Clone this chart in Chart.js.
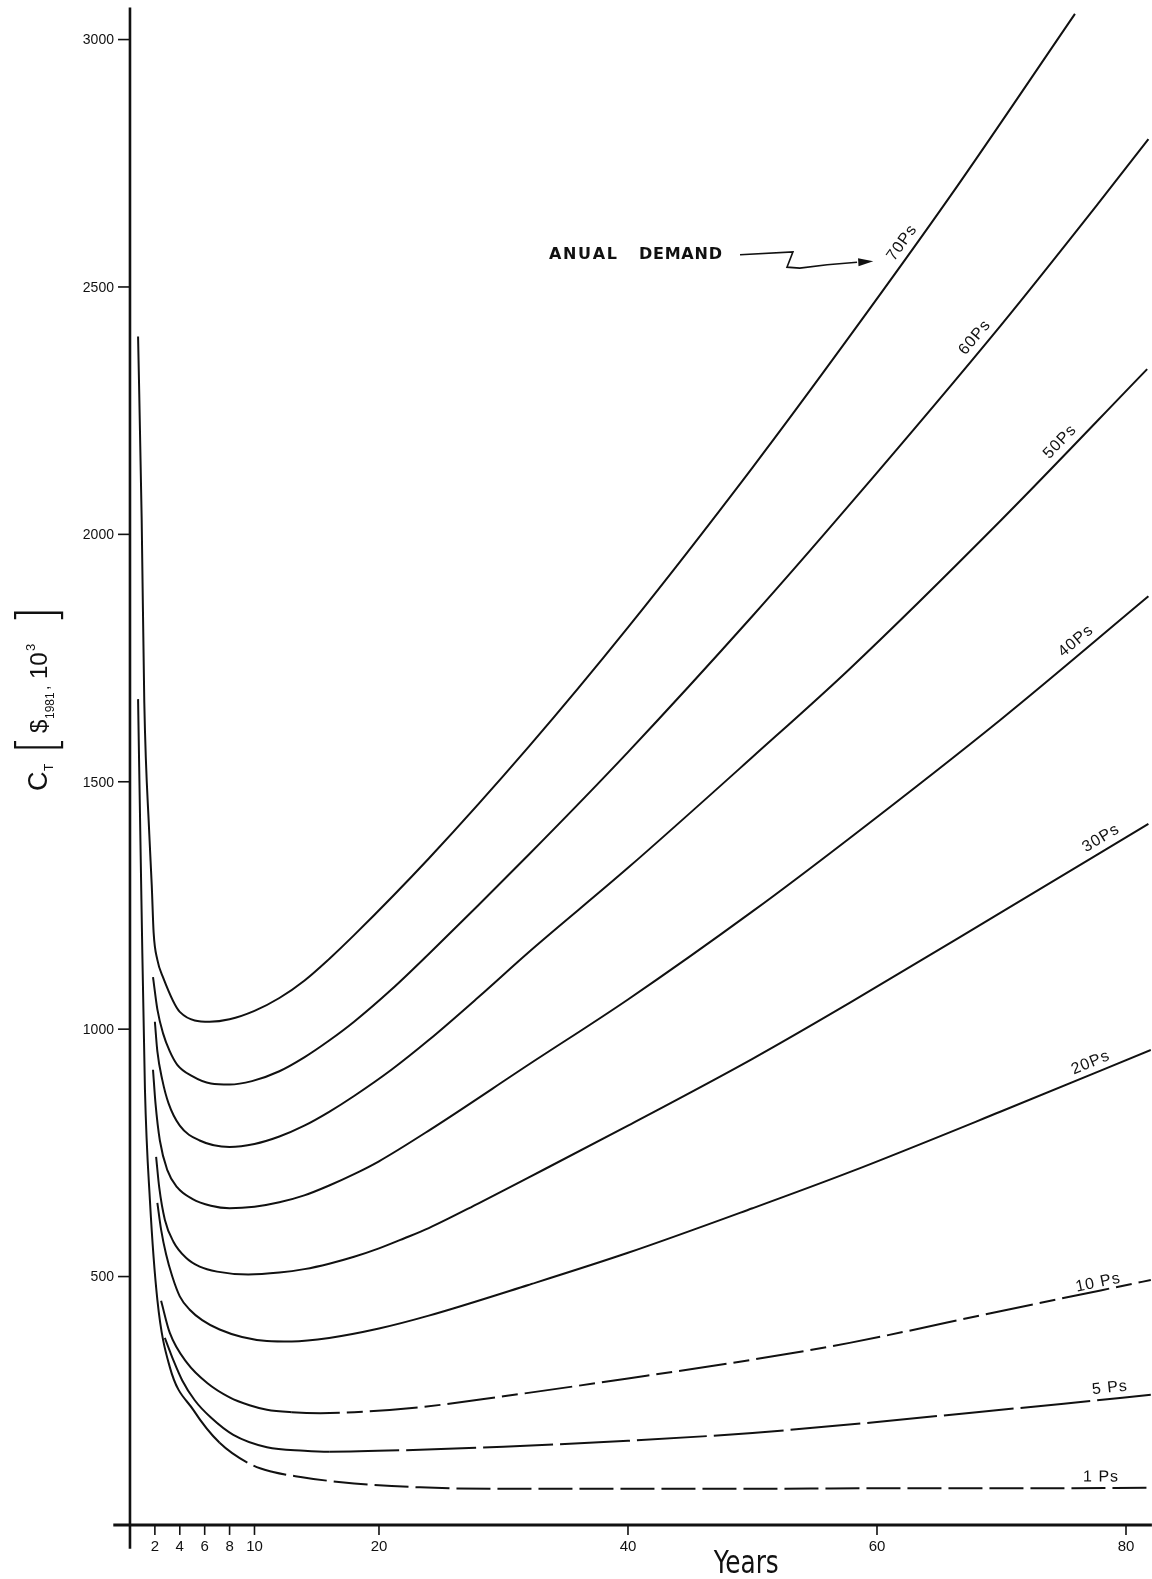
<!DOCTYPE html>
<html>
<head>
<meta charset="utf-8">
<script src="https://cdn.jsdelivr.net/npm/chart.js@4.4.1/dist/chart.umd.min.js"></script>
<style>
  html, body { margin: 0; padding: 0; background: #ffffff; }
  #wrap { width: 1152px; height: 1579px; }
</style>
</head>
<body>
<div id="wrap"><canvas id="c" width="1152" height="1579"></canvas></div>
<script>
// Total cost C_T (thousands of 1981 $) against years, one curve per annual demand level.
const demandLabels = ['70Ps', '60Ps', '50Ps', '40Ps', '30Ps', '20Ps', '10 Ps', '5 Ps', '1 Ps'];

const years70 = [0.65, 0.94, 1.15, 1.55, 1.75, 1.9, 2.2, 2.65, 4, 6.4, 8, 10, 12, 14, 16, 18, 24, 32, 40, 50, 57.8, 65.9, 75.9];
const cost70  = [2400, 2030, 1660, 1395, 1290, 1195, 1140, 1105, 1035, 1015, 1020, 1037, 1063, 1098, 1142, 1190, 1345, 1570, 1812, 2135, 2400, 2684, 3052];

const years60 = [1.85, 2.2, 2.65, 3.2, 3.8, 5, 6.5, 8, 9.8, 12, 14, 16, 18, 21, 24, 32, 40, 50, 57.8, 69.9, 77.9, 81.8];
const cost60  = [1105, 1040, 992, 955, 928, 905, 890, 888, 895, 915, 943, 977, 1015, 1080, 1152, 1352, 1560, 1835, 2060, 2421, 2673, 2799];

const years50 = [2.0, 2.2, 2.6, 3.1, 4.0, 5.6, 8, 10, 12, 14, 16, 18, 21, 24, 28, 32, 40, 50, 57.8, 69.9, 81.7];
const cost50  = [1015, 955, 897, 850, 805, 775, 762, 768, 783, 805, 833, 865, 918, 978, 1065, 1155, 1326, 1550, 1728, 2027, 2334];

const years40 = [1.85, 2.05, 2.4, 3.0, 3.8, 5, 6.5, 8, 10, 12, 14, 16, 18, 20, 24, 32, 40, 50, 57.8, 69.9, 81.8];
const cost40  = [918, 850, 775, 715, 680, 657, 643, 638, 641, 650, 664, 684, 707, 733, 795, 928, 1060, 1238, 1386, 1625, 1875];

const years30 = [2.1, 2.35, 2.8, 3.5, 4.5, 5.6, 7, 9.5, 12, 14, 16, 18, 20, 22, 24, 28, 32, 40, 50, 57.8, 69.9, 81.8];
const cost30  = [742, 680, 615, 570, 538, 520, 510, 504, 508, 515, 526, 540, 557, 577, 598, 648, 700, 805, 940, 1053, 1235, 1415];

const years20 = [2.2, 2.5, 2.9, 3.4, 4, 4.8, 5.8, 7.2, 9, 11, 13, 16, 20, 24, 32, 40, 50, 57.8, 69.9, 82];
const cost20  = [649, 595, 545, 500, 460, 433, 412, 393, 378, 370, 369, 376, 395, 421, 483, 548, 638, 711, 833, 958];

const years10 = [2.5, 3.2, 4.6, 6.2, 8, 9.6, 11, 13, 15.3, 18, 23.3, 30, 40, 50, 57.8, 69.9, 82];
const cost10  = [451, 386, 325, 285, 256, 240, 231, 226, 224, 226, 236, 258, 294, 332, 366, 430, 493];

const years5 = [2.8, 3.5, 4.2, 5.2, 6.5, 8.3, 11, 14, 16, 23.3, 30, 40, 50, 60, 68, 75, 82];
const cost5  = [376, 330, 290, 250, 215, 180, 155, 148, 146, 150, 156, 168, 184, 206, 226, 243, 261];

const years1 = [0.65, 0.92, 1.2, 1.6, 2.2, 3.2, 5.1, 7.2, 9.9, 11.5, 13.7, 16, 18, 23.3, 30, 40, 50, 60, 70, 82];
const cost1  = [1667, 1260, 880, 655, 453, 317, 230, 164, 118, 105, 95, 87, 82, 74, 71, 71, 71, 72, 72, 73];

const xTickValues = [2, 4, 6, 8, 10, 20, 40, 60, 80];
const yTickValues = [500, 1000, 1500, 2000, 2500, 3000];

// year at which each curve carries its name, and how far the name sits off the line
const labelYears  = [62.8, 68.6, 75.4, 76.6, 78.5, 77.5, 77.9, 78.8, 78.0];
const labelOffset = [12, 12, 12, 12, 12, 11, 8, 11, 11];

const series = [
  [years70, cost70], [years60, cost60], [years50, cost50], [years40, cost40],
  [years30, cost30], [years20, cost20], [years10, cost10], [years5, cost5], [years1, cost1]
];

const INK = '#111111';

// broken-stroke look on the flat right-hand runs of the low curves
function dashFor(i) {
  if (i === 8) return { borderDash: c => (c.p0.parsed.x > 6 ? [34, 7] : undefined) };
  if (i === 7) return { borderDash: c => (c.p0.parsed.x > 14 ? [70, 7] : undefined) };
  if (i === 6) return { borderDash: c => (c.p0.parsed.x > 11 ? [48, 7, 16, 7] : undefined) };
  return {};
}

const datasets = series.map(([xs, ys], i) => ({
  label: demandLabels[i],
  data: xs.map((x, k) => ({ x: x, y: ys[k] })),
  borderColor: INK,
  borderWidth: 2,
  pointRadius: 0,
  fill: false,
  cubicInterpolationMode: 'monotone',
  segment: dashFor(i)
}));

function curvePoint(chart, i, t) {
  const pts = chart.getDatasetMeta(i).data;
  const px = chart.scales.x.getPixelForValue(t);
  for (let k = 0; k < pts.length - 1; k++) {
    const a = pts[k], b = pts[k + 1];
    if (px >= a.x && px <= b.x) {
      const f = (px - a.x) / (b.x - a.x);
      return { x: px, y: a.y + f * (b.y - a.y), ang: Math.atan2(b.y - a.y, b.x - a.x) };
    }
  }
  const a = pts[pts.length - 2], b = pts[pts.length - 1];
  return { x: b.x, y: b.y, ang: Math.atan2(b.y - a.y, b.x - a.x) };
}

function spacedText(ctx, text, x, y, totalWidth) {
  const widths = [...text].map(ch => ctx.measureText(ch).width);
  const sum = widths.reduce((s, w) => s + w, 0);
  const gap = (totalWidth - sum) / (text.length - 1);
  let cx = x;
  [...text].forEach((ch, k) => { ctx.fillText(ch, cx, y); cx += widths[k] + gap; });
}

const inkPlugin = {
  id: 'ink',
  beforeDatasetsDraw(chart) {
    const { ctx, scales: { x, y } } = chart;
    const x0 = x.getPixelForValue(0), y0 = y.getPixelForValue(0);
    ctx.save();
    ctx.strokeStyle = INK;
    ctx.fillStyle = INK;

    // axes
    ctx.lineWidth = 2.6;
    ctx.beginPath();
    ctx.moveTo(x0, y.getPixelForValue(y.max));
    ctx.lineTo(x0, y.getPixelForValue(y.min));
    ctx.stroke();
    ctx.lineWidth = 3;
    ctx.beginPath();
    ctx.moveTo(x.getPixelForValue(x.min) + 2, y0 + 1);
    ctx.lineTo(x.getPixelForValue(x.max) + 1, y0 + 1);
    ctx.stroke();

    // y ticks
    ctx.lineWidth = 1.6;
    ctx.font = '14px "Liberation Sans", Arial, sans-serif';
    ctx.textAlign = 'right';
    ctx.textBaseline = 'middle';
    yTickValues.forEach(v => {
      const py = y.getPixelForValue(v);
      ctx.beginPath(); ctx.moveTo(x0 - 12, py); ctx.lineTo(x0, py); ctx.stroke();
      ctx.fillText(String(v), x0 - 16, py + 1);
    });

    // x ticks
    ctx.font = '15px "Liberation Sans", Arial, sans-serif';
    ctx.textAlign = 'center';
    ctx.textBaseline = 'middle';
    xTickValues.forEach(t => {
      const px = x.getPixelForValue(t);
      ctx.beginPath(); ctx.moveTo(px, y0); ctx.lineTo(px, y0 + 11); ctx.stroke();
      ctx.fillText(String(t), px, y0 + 23);
    });

    // x title
    ctx.save();
    ctx.font = '32px "Liberation Sans Narrow", "DejaVu Sans Condensed", sans-serif';
    const yw = ctx.measureText('Years').width;
    ctx.translate(x.getPixelForValue(49.5), y0 + 49);
    ctx.scale(65 / yw, 1);
    ctx.textAlign = 'center';
    ctx.textBaseline = 'alphabetic';
    ctx.fillText('Years', 0, 0);
    ctx.restore();

    // y title, reading upward
    ctx.save();
    ctx.translate(47, 698);
    ctx.rotate(-Math.PI / 2);
    ctx.textAlign = 'left';
    ctx.textBaseline = 'alphabetic';
    ctx.font = '27px "Liberation Sans", Arial, sans-serif';
    ctx.fillText('C', -93, 0);
    ctx.font = '12px "Liberation Sans", Arial, sans-serif';
    ctx.fillText('T', -73, 6);
    ctx.font = '200 54px Inter, "DejaVu Sans", sans-serif';
    ctx.fillText('[', -57, 9);
    ctx.font = '24px "Liberation Sans", Arial, sans-serif';
    ctx.fillText('$', -35, 0);
    ctx.font = '12px "Liberation Sans", Arial, sans-serif';
    ctx.fillText('1981', -21, 7);
    ctx.font = '16px "Liberation Sans", Arial, sans-serif';
    ctx.fillText(',', 8, 2);
    ctx.font = '24px "Liberation Sans", Arial, sans-serif';
    ctx.fillText('10', 19, 0);
    ctx.font = '13px "Liberation Sans", Arial, sans-serif';
    ctx.fillText('3', 47, -12);
    ctx.font = '200 54px Inter, "DejaVu Sans", sans-serif';
    ctx.fillText(']', 75, 9);
    ctx.restore();

    ctx.restore();
  },
  afterDatasetsDraw(chart) {
    const { ctx, scales: { x, y } } = chart;
    ctx.save();
    ctx.fillStyle = INK;
    ctx.strokeStyle = INK;

    // curve names, laid along each curve
    ctx.font = '16px "Liberation Sans", Arial, sans-serif';
    try { ctx.letterSpacing = '1px'; } catch (e) {}
    ctx.textAlign = 'center';
    ctx.textBaseline = 'middle';
    labelYears.forEach((t, i) => {
      const p = curvePoint(chart, i, t);
      const off = labelOffset[i];
      const nx = Math.sin(p.ang), ny = -Math.cos(p.ang);
      ctx.save();
      ctx.translate(p.x + nx * off, p.y + ny * off);
      ctx.rotate(p.ang);
      ctx.fillText(demandLabels[i], 0, 0);
      ctx.restore();
    });
    try { ctx.letterSpacing = '0px'; } catch (e) {}

    // "ANUAL DEMAND" note with its arrow
    ctx.font = 'bold 16px "DejaVu Sans", sans-serif';
    ctx.textAlign = 'left';
    ctx.textBaseline = 'middle';
    const tx = x.getPixelForValue(33.65), ty = y.getPixelForValue(2565);
    spacedText(ctx, 'ANUAL', tx, ty, 68);
    spacedText(ctx, 'DEMAND', tx + 90, ty, 83);

    const path = [[49.0, 2565], [53.25, 2571], [52.77, 2540], [53.8, 2538], [56.0, 2545], [58.4, 2550]];
    ctx.lineWidth = 1.6;
    ctx.beginPath();
    path.forEach(([t, v], k) => {
      const px = x.getPixelForValue(t), py = y.getPixelForValue(v);
      if (k === 0) ctx.moveTo(px, py); else ctx.lineTo(px, py);
    });
    ctx.stroke();
    const hx = x.getPixelForValue(59.7), hy = y.getPixelForValue(2552);
    const bx = x.getPixelForValue(58.4), by = y.getPixelForValue(2550);
    const a = Math.atan2(hy - by, hx - bx);
    ctx.beginPath();
    ctx.moveTo(hx, hy);
    ctx.lineTo(hx - 15 * Math.cos(a) + 4 * Math.sin(a), hy - 15 * Math.sin(a) - 4 * Math.cos(a));
    ctx.lineTo(hx - 15 * Math.cos(a) - 4 * Math.sin(a), hy - 15 * Math.sin(a) + 4 * Math.cos(a));
    ctx.closePath();
    ctx.fill();

    ctx.restore();
  }
};

new Chart(document.getElementById('c'), {
  type: 'line',
  data: { datasets: datasets },
  options: {
    responsive: false,
    animation: false,
    devicePixelRatio: 1,
    layout: { padding: { left: 111.3, right: 1.1, top: 7.4, bottom: 30.3 } },
    plugins: { legend: { display: false }, tooltip: { enabled: false } },
    scales: {
      x: { type: 'linear', min: -1.5, max: 82, display: false },
      y: { type: 'linear', min: -50, max: 3065, display: false }
    }
  },
  plugins: [inkPlugin]
});
</script>
</body>
</html>
